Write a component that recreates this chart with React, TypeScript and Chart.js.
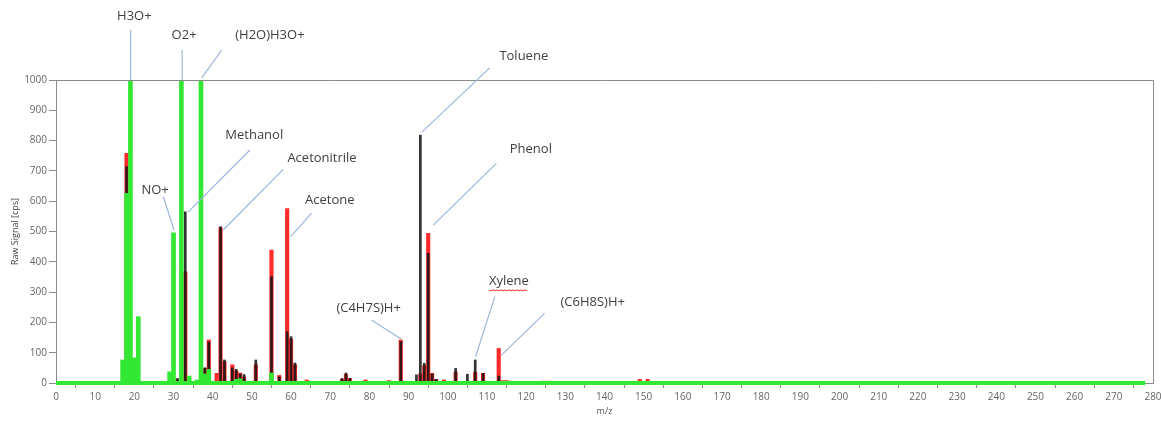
import React, { useEffect, useRef } from "react";
import { Chart, registerables } from "chart.js";

Chart.register(...registerables);

// ---- Axis ranges / ticks ----
const xMin = 0;
const xMax = 280;
const xStep = 10;
const yMin = 0;
const yMax = 1000;
const yStep = 100;

// ---- Series: green (reagent ions) ----
const greenMz = [17, 18, 19, 20, 21, 29, 30, 32, 34, 36, 37, 38, 39, 46, 47, 55];
const greenVals = [76, 626, 1000, 83, 219, 37, 496, 1000, 23, 10, 1000, 30, 45, 12, 14, 33];

// ---- Series: red ----
const redMz = [18, 31, 33, 38, 39, 41, 42, 43, 45, 46, 47, 48, 51, 55, 57, 59, 60, 61, 64, 73, 74, 75, 79, 85, 88, 93, 94, 95, 96, 97, 99, 102, 107, 109, 113, 114, 115, 116, 121, 124, 125, 126, 149, 151];
const redVals = [758, 10, 367, 49, 142, 32, 512, 70, 60, 40, 33, 20, 60, 439, 25, 576, 145, 60, 10, 12, 28, 15, 10, 8, 142, 30, 57, 494, 32, 12, 10, 36, 36, 32, 114, 8, 8, 6, 5, 6, 6, 6, 12, 12];

// ---- Series: black ----
const blackMz = [18, 31, 33, 38, 39, 42, 43, 45, 46, 47, 48, 51, 55, 57, 59, 60, 61, 73, 74, 75, 88, 92, 93, 94, 95, 96, 97, 102, 105, 107, 109, 113];
const blackVals = [714, 15, 565, 50, 135, 516, 76, 50, 45, 30, 28, 76, 351, 20, 169, 153, 66, 15, 33, 15, 137, 27, 818, 65, 428, 30, 12, 48, 29, 76, 32, 23];

// ---- Green background level along the whole mass range ----
const baselineMz = [0, 278];
const baselineVals = [0, 0];

// ---- Peak labels (text + leader line, in data units) ----
const peakLabels = [
  { text: "H3O+", tx: 20.0, ty: 1211, from: [19.05, 1165], to: [19.05, 1000] },
  { text: "O2+", tx: 32.7, ty: 1149, from: [32.2, 1099], to: [32.2, 1000] },
  { text: "(H2O)H3O+", tx: 54.6, ty: 1149, from: [42.3, 1099], to: [37.2, 1007] },
  { text: "Methanol", tx: 50.6, ty: 818, from: [49.5, 769], to: [33.75, 565] },
  { text: "NO+", tx: 25.3, ty: 637, from: [27.4, 615], to: [30.1, 505] },
  { text: "Acetonitrile", tx: 67.9, ty: 743, from: [58, 705], to: [42.7, 505] },
  { text: "Acetone", tx: 69.9, ty: 604, from: [65.2, 560], to: [59.9, 483] },
  { text: "(C4H7S)H+", tx: 79.8, ty: 248, from: [80.5, 208], to: [88.2, 144] },
  { text: "Toluene", tx: 119.4, ty: 1079, from: [110.7, 1040], to: [93.4, 828] },
  { text: "Phenol", tx: 121.2, ty: 772, from: [112.4, 725], to: [96.3, 521] },
  { text: "Xylene", tx: 115.6, ty: 337, from: [112, 285], to: [107.1, 87], underline: true },
  { text: "(C6H8S)H+", tx: 137, ty: 267, from: [124.7, 230], to: [113.7, 92] },
];

const GREEN = "#33e833";
const RED = "#ff2a2a";
const AXIS = "#8a8a8a";
const TICK_TEXT = "#666666";
const FONT = '"Open Sans", "Noto Sans", sans-serif';

const toPoints = (xs: number[], ys: number[]) => xs.map((x, i) => ({ x, y: ys[i] }));

const labelPlugin = {
  id: "peakLabels",
  afterDatasetsDraw(chart: any) {
    const { ctx, chartArea, scales } = chart;
    const x = scales.x;
    const y = scales.y;
    ctx.save();
    // top and right frame
    ctx.strokeStyle = AXIS;
    ctx.lineWidth = 1;
    ctx.beginPath();
    ctx.moveTo(chartArea.left, chartArea.top + 0.5);
    ctx.lineTo(chartArea.right + 0.5, chartArea.top + 0.5);
    ctx.lineTo(chartArea.right + 0.5, chartArea.bottom);
    ctx.stroke();

    // leader lines
    ctx.strokeStyle = "#9db6d8";
    ctx.lineWidth = 1.2;
    for (const a of peakLabels) {
      ctx.beginPath();
      ctx.moveTo(x.getPixelForValue(a.from[0]), y.getPixelForValue(a.from[1]));
      ctx.lineTo(x.getPixelForValue(a.to[0]), y.getPixelForValue(a.to[1]));
      ctx.stroke();
    }

    // texts
    ctx.font = `13px ${FONT}`;
    ctx.fillStyle = "#404040";
    ctx.textAlign = "center";
    ctx.textBaseline = "middle";
    for (const a of peakLabels) {
      const px = x.getPixelForValue(a.tx);
      const py = y.getPixelForValue(a.ty);
      ctx.fillText(a.text, px, py);
      if (a.underline) {
        const w = ctx.measureText(a.text).width;
        ctx.strokeStyle = RED;
        ctx.lineWidth = 1;
        ctx.beginPath();
        const uy = py + 9;
        for (let k = 0; k <= w; k += 2) {
          const yy = uy + (k % 4 === 0 ? 0 : 1);
          if (k === 0) ctx.moveTo(px - w / 2 + k, yy);
          else ctx.lineTo(px - w / 2 + k, yy);
        }
        ctx.stroke();
      }
    }
    ctx.restore();
  },
};

export default function App() {
  const canvasRef = useRef<HTMLCanvasElement | null>(null);

  useEffect(() => {
    if (!canvasRef.current) return;
    const chart = new Chart(canvasRef.current, {
      type: "bar",
      data: {
        datasets: [
          {
            type: "line",
            label: "baseline",
            data: toPoints(baselineMz, baselineVals),
            borderColor: GREEN,
            borderWidth: 4,
            pointRadius: 0,
            clip: false,
            order: -1,
          } as any,
          {
            label: "green",
            data: toPoints(greenMz, greenVals),
            backgroundColor: GREEN,
            barThickness: 4,
            grouped: false,
            order: 0,
          } as any,
          {
            label: "black",
            data: toPoints(blackMz, blackVals),
            backgroundColor: "rgba(20,20,20,0.88)",
            barThickness: 2,
            grouped: false,
            order: 1,
          } as any,
          {
            label: "red",
            data: toPoints(redMz, redVals),
            backgroundColor: RED,
            barThickness: 3.5,
            grouped: false,
            order: 2,
          } as any,
        ],
      },
      options: {
        animation: false,
        responsive: true,
        maintainAspectRatio: false,
        layout: { padding: { top: 80, right: 8, left: 0, bottom: 0 } },
        plugins: {
          legend: { display: false },
          tooltip: { enabled: false },
        },
        scales: {
          x: {
            type: "linear",
            min: xMin,
            max: xMax,
            offset: false,
            ticks: {
              stepSize: xStep,
              autoSkip: false,
              maxRotation: 0,
              color: TICK_TEXT,
              font: { family: FONT, size: 10 },
              padding: 3,
              callback: (v: any) => String(v),
            },
            grid: {
              display: true,
              drawOnChartArea: false,
              drawTicks: true,
              tickLength: 5,
              tickColor: AXIS,
            },
            border: { display: true, color: AXIS, width: 1 },
            title: {
              display: true,
              text: "m/z",
              color: "#555555",
              font: { family: FONT, size: 9 },
              padding: { top: 0, bottom: 5 },
            },
            afterFit: (s: any) => {
              s.height = 39;
              s.paddingLeft = 0;
              s.paddingRight = 0;
            },
          } as any,
          y: {
            type: "linear",
            min: yMin,
            max: yMax,
            ticks: {
              stepSize: yStep,
              color: TICK_TEXT,
              font: { family: FONT, size: 10 },
              padding: 2,
              callback: (v: any) => String(v),
            },
            grid: {
              display: true,
              drawOnChartArea: false,
              drawTicks: true,
              tickLength: 7,
              tickColor: AXIS,
            },
            border: { display: true, color: AXIS, width: 1 },
            title: {
              display: true,
              text: "Raw Signal [cps]",
              color: "#444444",
              font: { family: FONT, size: 9 },
              padding: { top: 10, bottom: 0 },
            },
            afterFit: (s: any) => {
              s.width = 56;
              s.paddingTop = 0;
              s.paddingBottom = 0;
            },
          } as any,
        },
      },
      plugins: [labelPlugin],
    });
    return () => chart.destroy();
  }, []);

  return (
    <div style={{ position: "fixed", left: 0, top: 0, width: 1161, height: 422, background: "#ffffff" }}>
      <canvas ref={canvasRef} />
    </div>
  );
}
